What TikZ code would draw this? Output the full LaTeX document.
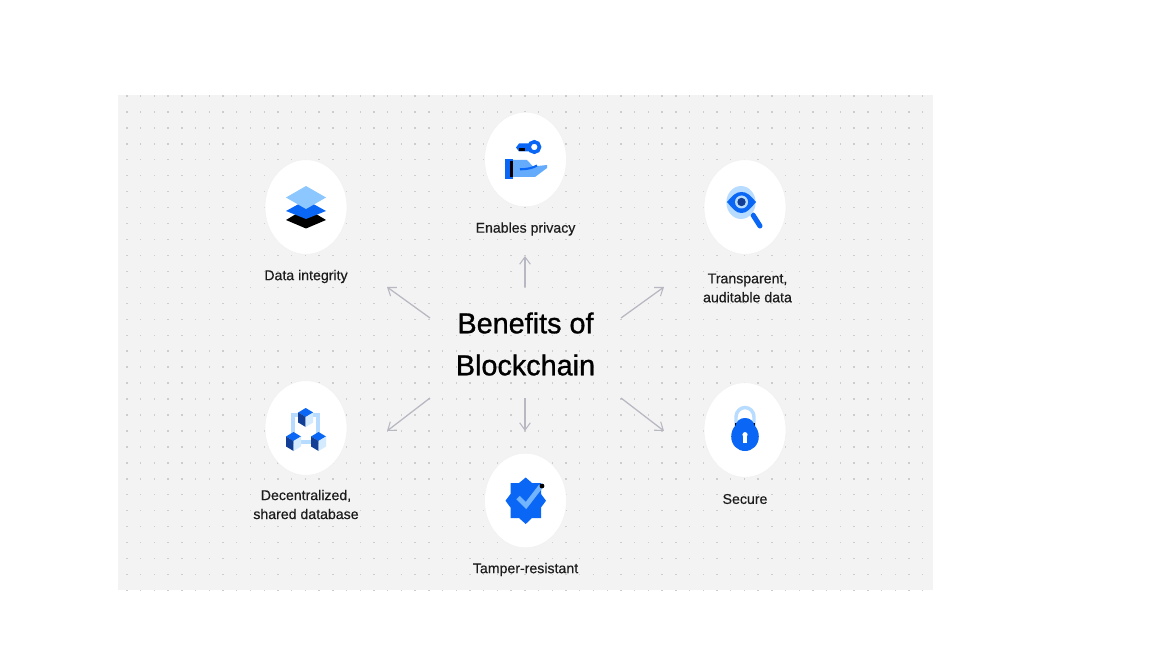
\documentclass[tikz,border=0pt]{standalone}
\usepackage{fontspec}
\setmainfont{Liberation Sans}
\usetikzlibrary{arrows.meta,shapes.geometric}
\definecolor{bgc}{HTML}{F3F3F3}
\definecolor{dotc}{HTML}{CDCDCD}
\definecolor{arrc}{HTML}{B8B8C2}
\definecolor{blu}{HTML}{0A66F5}
\definecolor{lblu}{HTML}{8CC8FF}
\definecolor{pale}{HTML}{B8DCFF}
\definecolor{navy}{HTML}{123E96}
\definecolor{txt}{HTML}{1C1C1C}
\tikzset{
  disc/.style={ellipse,fill=white,draw=black!5,line width=.5pt,minimum width=61.5pt,minimum height=71pt,inner sep=0pt},
  lab/.style={font=\fontsize{10.6}{14.2}\selectfont\addfontfeature{FakeBold=0.4},text=txt,align=center,inner sep=0pt},
  ttl/.style={font=\fontsize{21.6}{31.5}\selectfont\addfontfeature{FakeBold=1},text=black,align=center,inner sep=0pt},
  ray/.style={draw=arrc,line width=.95pt,-{Straight Barb[length=5.5pt,width=8pt,line width=.8pt]}},
  cube/.pic={
    \fill[blu] (0,-5.5) -- (7.5,-1) -- (0,3.5) -- (-7.5,-1) -- cycle;
    \fill[navy] (-7.5,-1) -- (0,3.5) -- (0,13.5) -- (-7.5,9) -- cycle;
    \fill[pale!60] (7.5,-1) -- (0,3.5) -- (0,13.5) -- (7.5,9) -- cycle;
  }
}
\begin{document}
\begin{tikzpicture}[x=0.75pt,y=-0.75pt]
\useasboundingbox (0,0) rectangle (1152,648);
\fill[bgc] (118,95) rectangle (933,590);
\begin{scope}
\clip (118,95) rectangle (933,590);
\foreach \i in {0,...,59}{
  \foreach \j in {0,...,31}{
    \fill[dotc] ({127+13.72*\i-.7},{96+15.95*\j-.7}) rectangle +(1.4,1.4);
  }
}
\end{scope}
% discs
\node[disc] (d1) at (306,207) {};
\node[disc] (d2) at (525.5,159.5) {};
\node[disc] (d3) at (745,207) {};
\node[disc] (d4) at (306,428) {};
\node[disc] (d5) at (525.5,500.5) {};
\node[disc] (d6) at (745,430) {};
% labels
\node[lab] (l1) at (306,276.5) {Data integrity};
\node[lab] (l2) at (525.5,229) {Enables privacy};
\node[lab] (l3) at (747.5,288) {Transparent,\\auditable data};
\node[lab] (l4) at (306,504.5) {Decentralized,\\shared database};
\node[lab] (l5) at (525.5,569.5) {Tamper-resistant};
\node[lab] (l6) at (745,499) {Secure};
\node[ttl] (title) at (525.5,344) {Benefits of\\Blockchain};
% arrows
\coordinate (a1s) at (430,318); \coordinate (a1e) at (387,287);
\coordinate (a2s) at (525,287); \coordinate (a2e) at (525,256);
\coordinate (a3s) at (621,318); \coordinate (a3e) at (664,287);
\coordinate (a4s) at (430,398); \coordinate (a4e) at (387,431);
\coordinate (a5s) at (525,398); \coordinate (a5e) at (525,431);
\coordinate (a6s) at (621,398); \coordinate (a6e) at (664,431);
\foreach \k in {1,...,6}{ \draw[ray] (a\k s) -- (a\k e); }
% stack icon
\fill[black] (286,220) -- (306,208) -- (326,220) -- (306,228.5) -- cycle;
\fill[blu] (286,211) -- (306,200) -- (326,211) -- (306,219) -- cycle;
\fill[lblu] (286,197.5) -- (306,186) -- (326,197.5) -- (306,209) -- cycle;
% key and hand icon
\fill[blu] (519,143.5) -- (530,143.5) -- (530,151.5) -- (519,151.5) -- (516,147.5) -- cycle;
\fill[black] (519,148) rectangle (525,151.5);
\draw[blu,line width=2.7pt] (534.3,147) circle (5.2);
\fill[lblu!70!blu] (512,160) -- (527,160) -- (533,166.5) -- (547,165) -- (547,168) -- (535,177) -- (512,177) -- cycle;
\fill[blu] (504.5,159) rectangle (513,179);
\fill[black] (510,161) rectangle (512.5,177);
\draw[blu,line width=1.6pt] (520,169.3) .. controls (527,169.3) and (533,168) .. (537,165.5);
% eye icon
\draw[blu,line width=3.8pt,line cap=round] (753,215) -- (760,226);
\fill[pale] (741,202.5) ellipse [x radius=14.6,y radius=16.5];
\fill[blu] (727,202) .. controls (733,195) and (736,192) .. (741.5,192) .. controls (747,192) and (750,195) .. (756,202) .. controls (750,209) and (747,213) .. (741.5,213) .. controls (736,213) and (733,209) .. (727,202) -- cycle;
\fill[pale] (741.5,202) circle (6.5);
\fill[navy] (741.5,202) circle (4.2);
% network icon
\draw[pale,line width=2.6pt] (293,442) -- (293,415) -- (318,415) -- (318,442) -- cycle;
\pic at (305.7,413.5) {cube};
\pic at (293.5,437.5) {cube};
\pic at (318.5,437.5) {cube};
% badge icon
\fill[blu] (525.7,477.5) -- (532,483) -- (541,483) -- (541,494) -- (546,500.7) -- (541,507.5) -- (541,518) -- (532,518) -- (525.7,524) -- (519,518) -- (510.5,518) -- (510.5,507.5) -- (505.5,500.7) -- (510.5,494) -- (510.5,483) -- (519,483) -- cycle;
\draw[lblu!80!blu,line width=3.6pt] (518,497.5) -- (526,505.5) -- (541,486);
\fill[black] (542,486) circle (2.4);
% lock icon
\draw[pale,line width=2.6pt] (736,426) -- (736,417) arc[start angle=180,end angle=0,x radius=9,y radius=-9.5] -- (754,426);
\fill[black] (734.8,422.5) rectangle (740,428.5);
\fill[black] (750,422.5) rectangle (755.2,428.5);
\fill[blu] (745,418) .. controls (750,418) and (753.5,421) .. (754.5,425.5) .. controls (757,428) and (758.8,432) .. (758.8,436.5) .. controls (758.8,445) and (752.5,451) .. (745,451) .. controls (737.5,451) and (731.2,445) .. (731.2,436.5) .. controls (731.2,432) and (733,428) .. (735.5,425.5) .. controls (736.5,421) and (740,418) .. (745,418) -- cycle;
\fill[white] (745,434.7) circle (2.6);
\fill[white] (743,435) rectangle (747,442.5);
\end{tikzpicture}
\end{document}
